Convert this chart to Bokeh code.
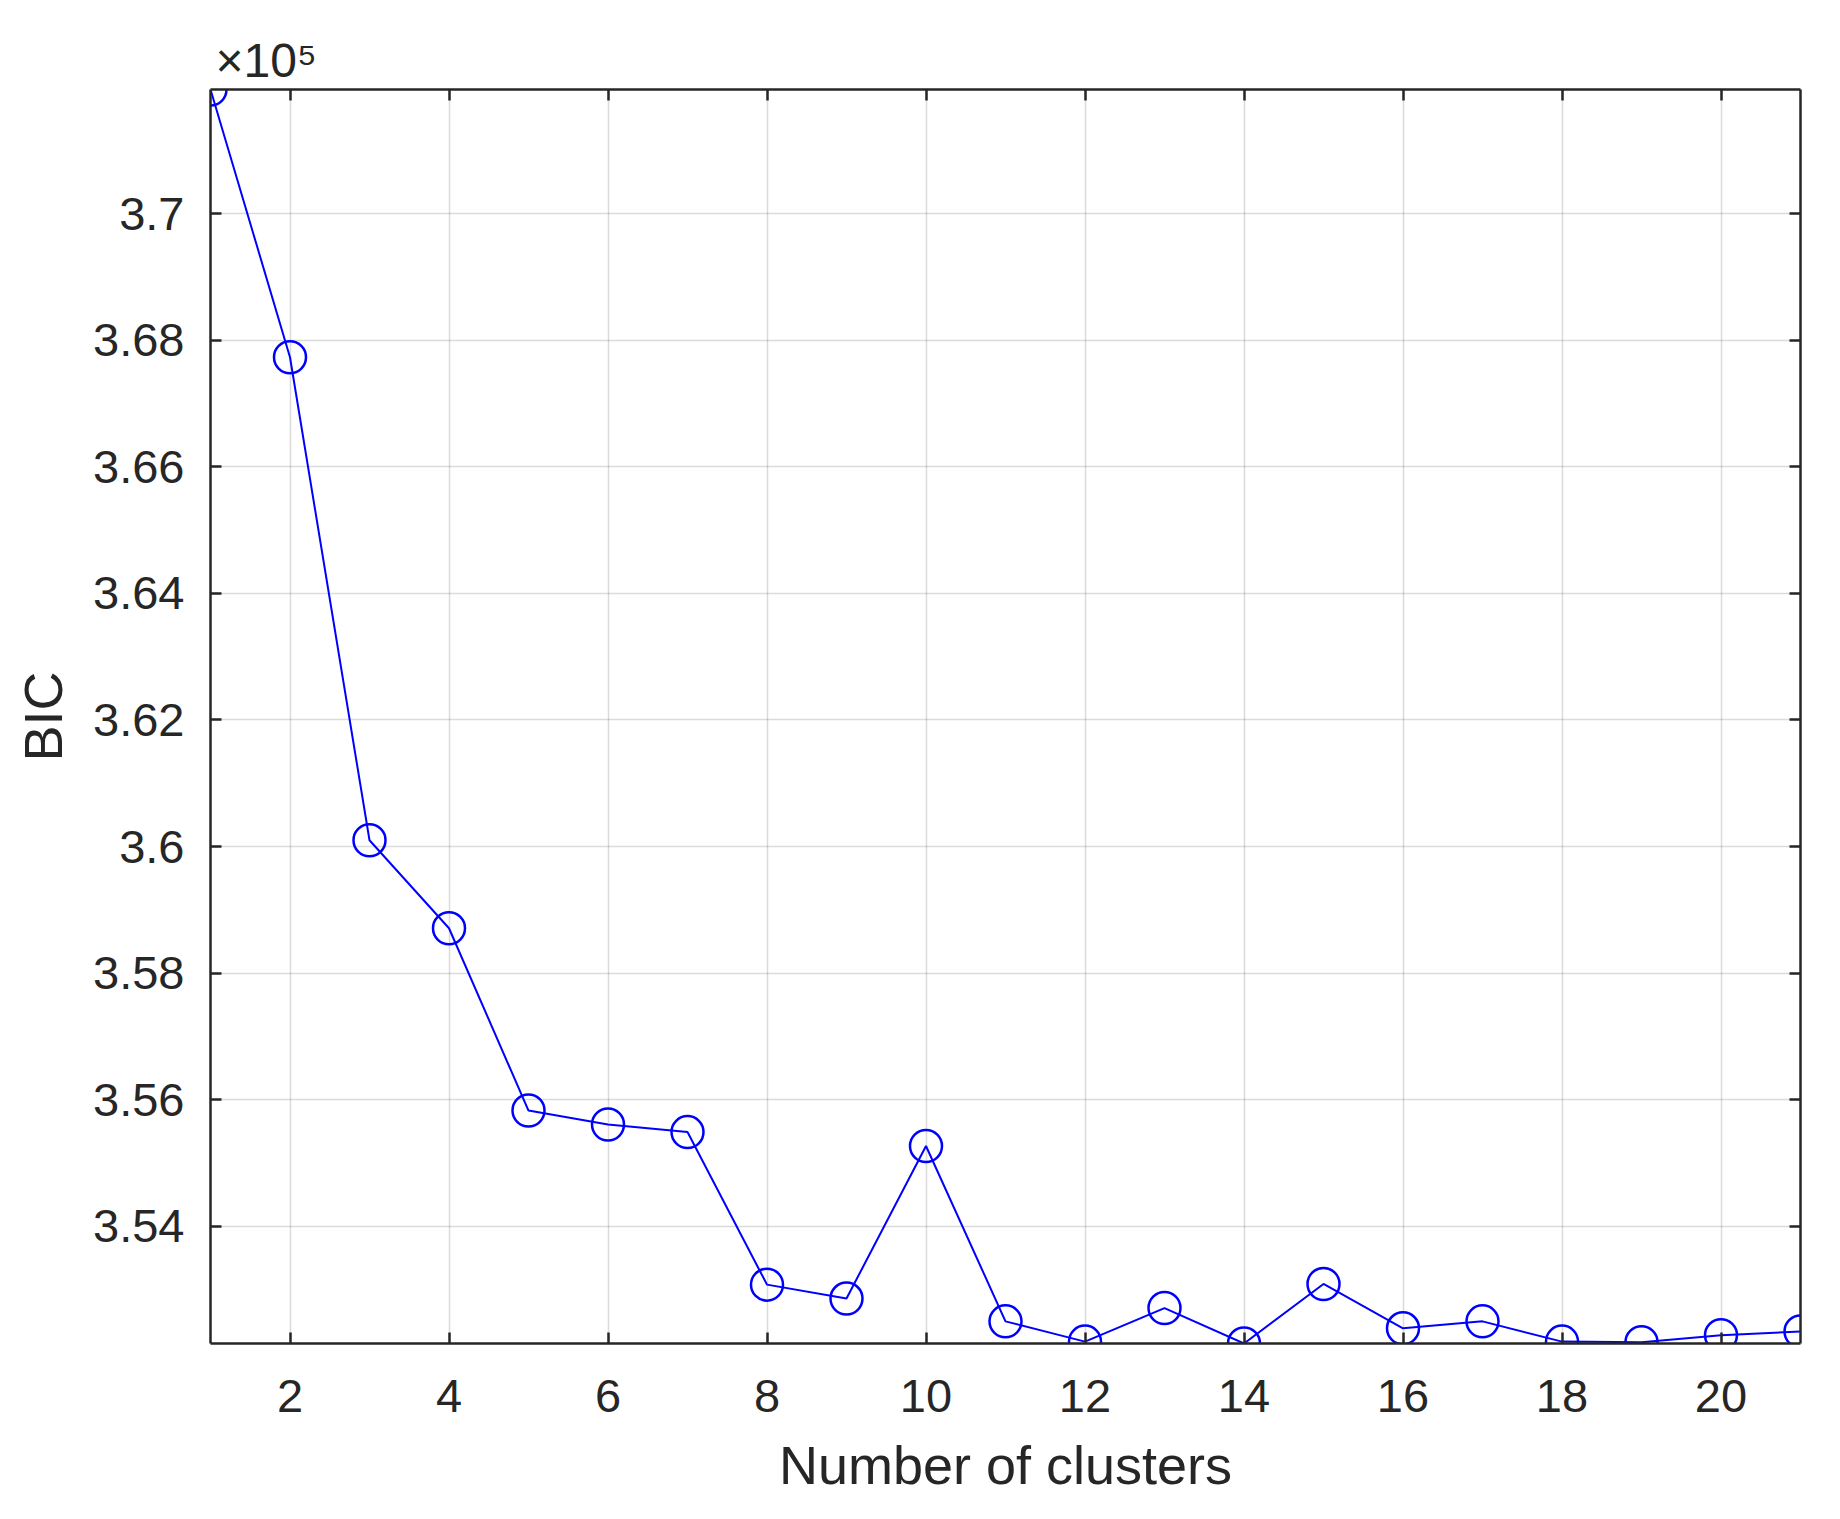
from bokeh.plotting import figure
from bokeh.models import Range1d, LinearAxis, FixedTicker, Title, ColumnDataSource
from bokeh.embed import file_html
from bokeh.resources import INLINE

# ---- data (BIC values in units of 1e5) ----
clusters = list(range(1, 22))
bic_e5 = [3.7196, 3.6773, 3.6010, 3.5871, 3.5583, 3.5561, 3.5549, 3.5308,
          3.5286, 3.5527, 3.5250, 3.5218, 3.5271, 3.5215, 3.5309, 3.5239,
          3.5250, 3.5218, 3.5217, 3.5228, 3.5234]
x_ticks = [2, 4, 6, 8, 10, 12, 14, 16, 18, 20]
y_ticks = [3.54, 3.56, 3.58, 3.6, 3.62, 3.64, 3.66, 3.68, 3.7]
y_tick_labels = ["3.54", "3.56", "3.58", "3.6", "3.62", "3.64", "3.66", "3.68", "3.7"]
x_label = "Number of clusters"
y_label = "BIC"
scale_label = "\u00d710\u2075"

FONT = "Liberation Sans"
AX = "#262626"

src = ColumnDataSource(data=dict(x=clusters, y=bic_e5))

p = figure(width=1824, height=1503, output_backend="svg", toolbar_location=None,
           x_range=Range1d(min(clusters), max(clusters)),
           y_range=Range1d(min(bic_e5), max(bic_e5)),
           min_border_left=210, min_border_right=24, min_border_top=89,
           min_border_bottom=160)
p.background_fill_color = "white"
p.border_fill_color = "white"
p.outline_line_color = None

# grid
for g in (p.xgrid, p.ygrid):
    g.grid_line_color = "#000000"
    g.grid_line_alpha = 0.14
    g.grid_line_width = 1.5
p.xgrid.ticker = FixedTicker(ticks=x_ticks)
p.ygrid.ticker = FixedTicker(ticks=y_ticks)

def style_axis(ax, ticks, labels=True):
    ax.ticker = FixedTicker(ticks=ticks)
    ax.axis_line_color = AX
    ax.axis_line_width = 2.5
    ax.major_tick_line_color = AX
    ax.major_tick_line_width = 2.5
    ax.major_tick_in = 11
    ax.major_tick_out = 0
    ax.minor_tick_line_color = None
    ax.major_label_text_font = FONT
    ax.major_label_text_color = AX
    if labels:
        ax.major_label_text_font_size = "47px"
    else:
        ax.major_label_text_font_size = "0px"
        ax.major_label_standoff = 0

# bottom / left axes
xa = p.xaxis[0]
ya = p.yaxis[0]
style_axis(xa, x_ticks)
style_axis(ya, y_ticks)
xa.major_label_standoff = 36
ya.major_label_standoff = 26
ya.major_label_overrides = {t: s for t, s in zip(y_ticks, y_tick_labels)}
xa.axis_label = x_label
ya.axis_label = y_label
for a in (xa, ya):
    a.axis_label_text_font = FONT
    a.axis_label_text_font_size = "54px"
    a.axis_label_text_font_style = "normal"
    a.axis_label_text_color = AX
xa.axis_label_standoff = 20
ya.axis_label_standoff = 17

# top / right box axes
top = LinearAxis()
right = LinearAxis()
style_axis(top, x_ticks, labels=False)
style_axis(right, y_ticks, labels=False)
p.add_layout(top, "above")
p.add_layout(right, "right")

# x10^5 exponent label above the top-left corner
p.add_layout(Title(text=scale_label, align="left", offset=5, standoff=6,
                   text_font=FONT, text_font_size="48px", text_font_style="normal",
                   text_color=AX), "above")

# data line + markers
p.line("x", "y", source=src, line_color="#0000ff", line_width=2)
p.scatter("x", "y", source=src, marker="circle", size=32, fill_color=None,
          line_color="#0000ff", line_width=2.5)

open("out.html", "w").write(file_html(p, INLINE))
